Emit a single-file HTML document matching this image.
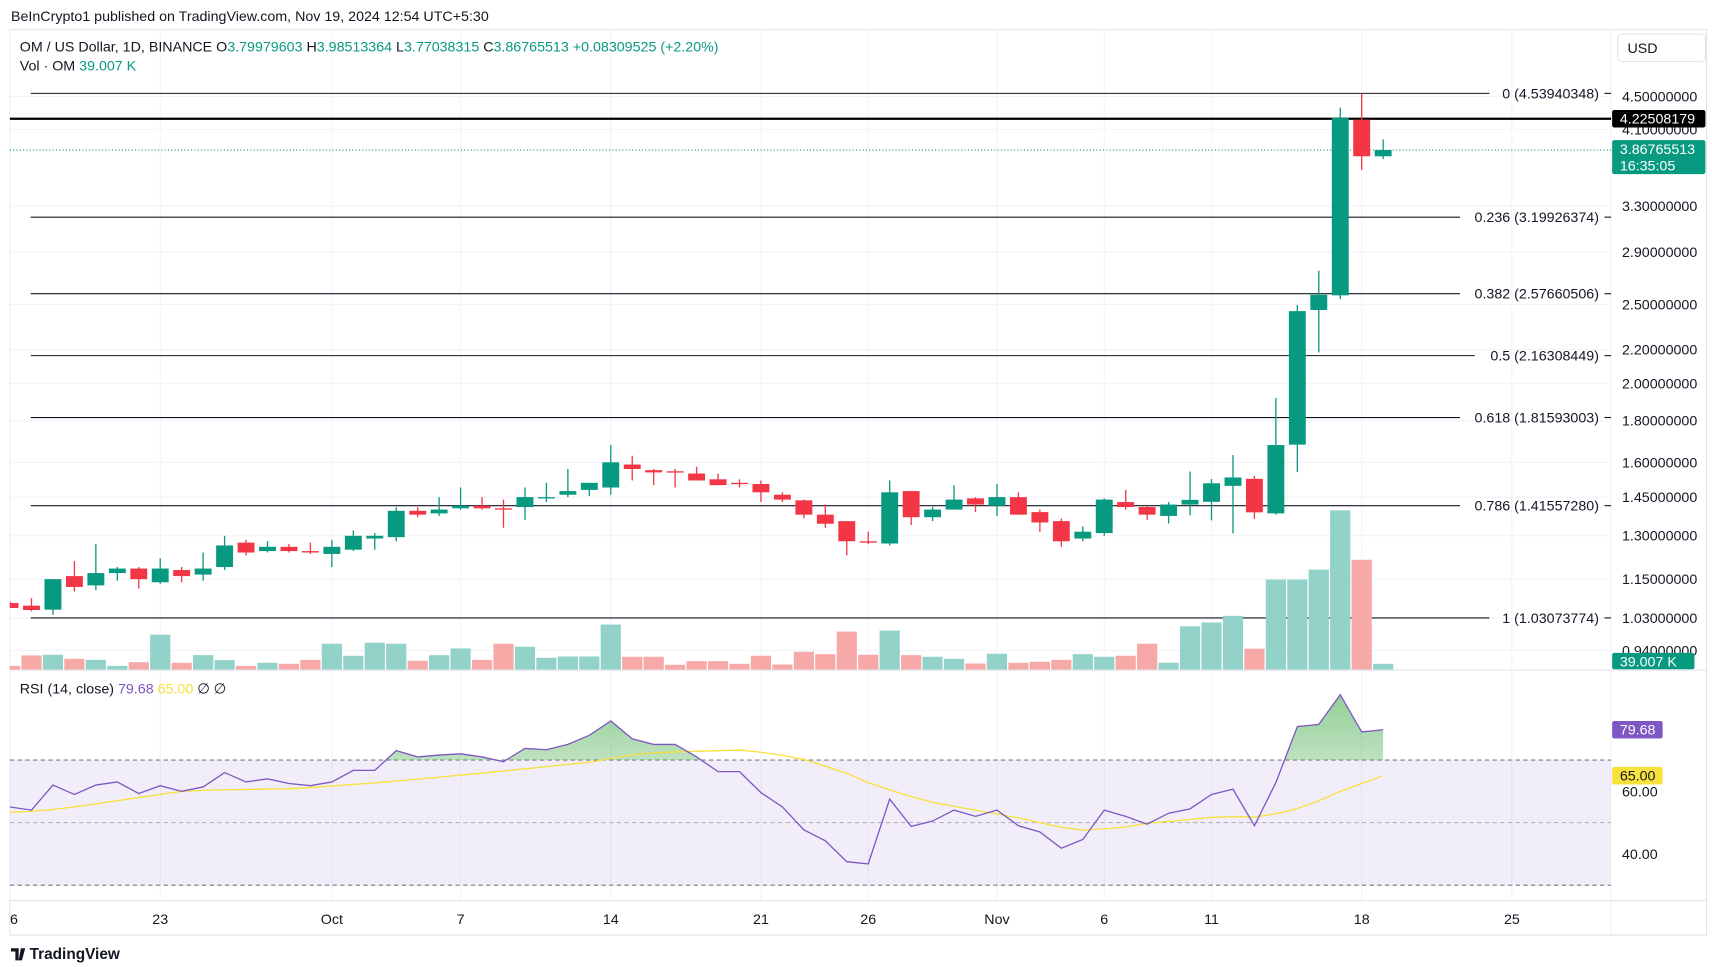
<!DOCTYPE html>
<html><head><meta charset="utf-8"><style>
html,body{margin:0;padding:0;background:#fff;}
svg{display:block;font-family:"Liberation Sans",sans-serif;}
</style></head><body>
<svg id="chart" width="1712" height="967" viewBox="0 0 1560 881" xmlns="http://www.w3.org/2000/svg">
<defs>
<clipPath id="plotclip"><rect x="9" y="27" width="1459" height="825"/></clipPath>
<clipPath id="above70"><rect x="9" y="611" width="1459" height="81.5"/></clipPath>
<linearGradient id="obg" x1="0" y1="0" x2="0" y2="1"><stop offset="0" stop-color="#4caf50" stop-opacity="0.6"/><stop offset="1" stop-color="#4caf50" stop-opacity="0"/></linearGradient>
</defs>
<text x="10" y="19" font-size="13" fill="#131722">BeInCrypto1 published on TradingView.com, Nov 19, 2024 12:54 UTC+5:30</text>
<rect x="9" y="27" width="1546" height="825" fill="none" stroke="#e0e3eb"/>
<g id="grid"></g>
<g id="fib"></g>
<g id="vol" clip-path="url(#plotclip)"></g>
<g id="candles" clip-path="url(#plotclip)"></g>
<g id="rsi"></g>
<g id="axes"></g>
<text x="18" y="47" font-size="13" fill="#131722">OM / US Dollar, 1D, BINANCE  O<tspan fill="#089981">3.79979603</tspan>  H<tspan fill="#089981">3.98513364</tspan>  L<tspan fill="#089981">3.77038315</tspan>  C<tspan fill="#089981">3.86765513</tspan>  <tspan fill="#089981">+0.08309525 (+2.20%)</tspan></text>
<text x="18" y="64" font-size="13" fill="#131722">Vol · OM  <tspan fill="#089981">39.007 K</tspan></text>
<g><rect x="1474" y="31" width="80" height="25" rx="4" fill="#fff" stroke="#e0e3eb"/><text x="1483" y="48" font-size="13" fill="#131722">USD</text></g>
<text x="18" y="632" font-size="13" fill="#131722">RSI (14, close)  <tspan fill="#7e57c2">79.68</tspan>  <tspan fill="#f7e13b">65.00</tspan>  ∅  ∅</text>
<g><path d="M10 864h7v11h-3v-8h-4z M19 864h4l-3 11h-3z" fill="#131722"/><text x="27" y="874" font-size="14" font-weight="bold" fill="#131722">TradingView</text></g>
</svg>
<script>
const days=["Sep16","Sep17","Sep18","Sep19","Sep20","Sep21","Sep22","Sep23","Sep24","Sep25","Sep26","Sep27","Sep28","Sep29","Sep30","Oct1","Oct2","Oct3","Oct4","Oct5","Oct6","Oct7","Oct8","Oct9","Oct10","Oct11","Oct12","Oct13","Oct14","Oct15","Oct16","Oct17","Oct18","Oct19","Oct20","Oct21","Oct22","Oct23","Oct24","Oct25","Oct26","Oct27","Oct28","Oct29","Oct30","Oct31","Nov1","Nov2","Nov3","Nov4","Nov5","Nov6","Nov7","Nov8","Nov9","Nov10","Nov11","Nov12","Nov13","Nov14","Nov15","Nov16","Nov17","Nov18","Nov19"];
const opens=[1.075,1.067,1.055,1.16,1.13,1.17,1.185,1.14,1.18,1.165,1.19,1.275,1.245,1.26,1.245,1.235,1.25,1.29,1.295,1.395,1.385,1.405,1.415,1.405,1.41,1.445,1.46,1.48,1.49,1.59,1.565,1.56,1.55,1.525,1.51,1.505,1.46,1.437,1.38,1.355,1.28,1.272,1.475,1.37,1.40,1.445,1.415,1.45,1.39,1.355,1.29,1.31,1.43,1.41,1.375,1.42,1.431,1.497,1.527,1.385,1.682,2.461,2.565,4.213,3.7998];
const highs=[1.08,1.09,1.15,1.21,1.27,1.19,1.19,1.22,1.19,1.24,1.30,1.285,1.28,1.27,1.275,1.285,1.32,1.31,1.41,1.41,1.45,1.49,1.45,1.44,1.49,1.51,1.57,1.51,1.68,1.63,1.57,1.57,1.58,1.55,1.525,1.52,1.47,1.44,1.42,1.355,1.315,1.52,1.475,1.41,1.50,1.45,1.505,1.47,1.40,1.365,1.335,1.445,1.48,1.415,1.43,1.559,1.526,1.633,1.54,1.919,2.497,2.75,4.358,4.539,3.985];
const lows=[1.06,1.05,1.04,1.11,1.115,1.145,1.12,1.135,1.14,1.145,1.18,1.23,1.24,1.24,1.235,1.19,1.245,1.25,1.28,1.37,1.375,1.40,1.40,1.33,1.36,1.43,1.45,1.455,1.46,1.52,1.50,1.49,1.52,1.50,1.49,1.43,1.43,1.366,1.33,1.23,1.27,1.265,1.34,1.355,1.40,1.39,1.375,1.38,1.315,1.26,1.28,1.30,1.40,1.36,1.346,1.377,1.358,1.309,1.364,1.38,1.556,2.183,2.539,3.657,3.770];
const closes=[1.06,1.054,1.15,1.125,1.17,1.185,1.15,1.185,1.16,1.185,1.265,1.24,1.26,1.245,1.24,1.26,1.30,1.30,1.395,1.38,1.40,1.415,1.405,1.40,1.45,1.45,1.475,1.51,1.60,1.57,1.555,1.555,1.52,1.50,1.505,1.47,1.44,1.38,1.345,1.28,1.275,1.47,1.37,1.40,1.44,1.42,1.45,1.38,1.35,1.28,1.315,1.44,1.41,1.38,1.42,1.439,1.508,1.533,1.389,1.68,2.453,2.569,4.236,3.80,3.8677];
const volumesK=[25,96,101,73,66,25,50,238,46,98,64,25,46,39,66,176,94,183,176,60,98,144,66,176,156,80,89,89,307,87,87,32,57,57,39,94,34,121,105,259,101,266,98,87,73,41,108,46,53,66,105,87,94,176,46,295,321,366,142,614,614,682,1086,749,39];
const rsiValues=[55,54,62,59,62,63,59.3,61.8,60,61.4,66,63,64,62.5,61.8,63,66.7,66.7,73,71,71.6,72,71,69.5,73.7,73.3,75,77.9,82.5,76.8,75,75,71,66.3,66.3,59.6,55,47.7,44.2,37.5,36.8,57.5,48.8,50.5,54,52,54,49,47,41.8,44.6,54,52,49.5,53,54.4,59,60.7,49,62.8,80.7,81.4,90.9,79,79.68];
const rsiMA=[53.3,53.6,54.2,55,56,57,58,59,60,60.3,60.5,60.6,60.7,60.8,61.2,61.7,62.2,62.7,63.3,63.9,64.5,65.2,65.8,66.5,67.2,67.9,68.6,69.3,70.5,71.7,72.3,72.6,72.8,73,73.2,72.5,71.5,70.2,68,65.8,62.8,60.5,58.3,56.5,55.2,54,52.8,51.5,50,48.5,47.6,48,48.6,49.8,50.4,51,51.7,51.9,51.8,52.8,54.5,57,60,62.5,65];
const priceTicks=[4.5,4.1,3.3,2.9,2.5,2.2,2.0,1.8,1.6,1.45,1.3,1.15,1.03,0.94];
const fibLevels=[0,0.236,0.382,0.5,0.618,0.786,1];
const fibPrices=[4.53940348,3.19926374,2.57660506,2.16308449,1.81593003,1.41557280,1.03073774];
const timeLabels=["16","23","Oct","7","14","21","26","Nov","6","11","18","25"];
const timeIdx=[0,7,15,21,28,35,40,46,51,56,63,70];
const rsiTicks=[60,40];
const hLinePrice=4.22508179, lastPrice=3.86765513, lastVolLabel="39.007 K";

const NS="http://www.w3.org/2000/svg";
function mk(tag,attrs,parent){const e=document.createElementNS(NS,tag);for(const k in attrs)e.setAttribute(k,attrs[k]);parent.appendChild(e);return e;}
const X0=9.15,DX=19.55;
const xOf=i=>X0+i*DX;
const PY0=85,PSC=322.4,PREF=4.53940348;
const yP=p=>PY0+(Math.log(PREF)-Math.log(p))*PSC;
const VOLB=610,VPX=7.49;
const yV=v=>VOLB-v/VPX;
const yR=v=>721-(v-60)*2.85;
const PL=9,PR=1468;
const G=id=>document.getElementById(id);

const grid=G('grid');
priceTicks.forEach(p=>{const l=mk('line',{x1:PL,x2:PR,y1:yP(p),y2:yP(p),stroke:'#f0f3fa'},grid);

});
timeIdx.forEach(i=>{const l=mk('line',{x1:xOf(i),x2:xOf(i),y1:27,y2:820,stroke:'#f0f3fa'},grid);

});
mk('line',{x1:PL,x2:1555,y1:610.5,y2:610.5,stroke:'#e0e3eb'},grid);
mk('line',{x1:PR,x2:PR,y1:27,y2:852,stroke:'#f0f3fa'},grid);
mk('line',{x1:PL,x2:1555,y1:820.5,y2:820.5,stroke:'#e0e3eb'},grid);

const vg=G('vol');
volumesK.forEach((v,i)=>{const up=closes[i]>=opens[i];const r=mk('rect',{x:xOf(i)-9.2,y:yV(v),width:18.4,height:VOLB-yV(v),fill:up?'#92d2c9':'#f7a9a7'},vg);

});

const fg=G('fib');
fibLevels.forEach((lv,k)=>{const y=yP(fibPrices[k]);const label=lv+' ('+fibPrices[k].toFixed(8)+')';
const t=mk('text',{x:1457,y:y+4.5,'font-size':13,fill:'#131722','text-anchor':'end'},fg);t.textContent=label;


const w=label.length*6.7;
const l=mk('line',{x1:28,x2:1457-w-6,y1:y,y2:y,stroke:'#131722','stroke-width':1},fg);


mk('line',{x1:1462,x2:1468,y1:y,y2:y,stroke:'#131722'},fg);});
const hl=mk('line',{x1:PL,x2:PR,y1:yP(hLinePrice),y2:yP(hLinePrice),stroke:'#000','stroke-width':2},fg);


const cl=mk('line',{x1:PL,x2:PR,y1:yP(lastPrice),y2:yP(lastPrice),stroke:'#089981','stroke-dasharray':'1,2'},fg);



const cg=G('candles');
opens.forEach((o,i)=>{const c=closes[i],up=c>=o,col=up?'#089981':'#f23645',x=xOf(i);
const g=mk('g',{},cg);


mk('line',{x1:x,x2:x,y1:yP(highs[i]),y2:yP(lows[i]),stroke:col,'stroke-width':1.2},g);
const yt=yP(Math.max(o,c)),yb=yP(Math.min(o,c));
mk('rect',{x:x-7.7,y:yt,width:15.4,height:Math.max(1.2,yb-yt),fill:col},g);});

const rg=G('rsi');
const band=mk('rect',{x:PL,y:yR(70),width:PR-PL,height:yR(30)-yR(70),fill:'rgba(126,87,194,0.1)'},rg);


[[70,'#787b86'],[50,'#b2b5be'],[30,'#787b86']].forEach(([v,c])=>mk('line',{x1:PL,x2:PR,y1:yR(v),y2:yR(v),stroke:c,'stroke-dasharray':'4,3'},rg));
let pts=rsiValues.map((v,i)=>xOf(i)+','+yR(v));
const fill=mk('polygon',{points:xOf(0)+','+yR(70)+' '+pts.join(' ')+' '+xOf(rsiValues.length-1)+','+yR(70),fill:'url(#obg)','clip-path':'url(#above70)'},rg);


const ma=mk('polyline',{points:rsiMA.map((v,i)=>xOf(i)+','+yR(v)).join(' '),fill:'none',stroke:'#f7e13b','stroke-width':1.2},rg);


const rl=mk('polyline',{points:pts.join(' '),fill:'none',stroke:'#7e57c2','stroke-width':1.2},rg);



const ag=G('axes');
priceTicks.forEach(p=>{const t=mk('text',{x:1478,y:yP(p)+4.5,'font-size':13,fill:'#131722'},ag);t.textContent=p.toFixed(8);

});
rsiTicks.forEach(v=>{const t=mk('text',{x:1478,y:yR(v)+4.5,'font-size':13,fill:'#131722'},ag);t.textContent=v.toFixed(2);

});
function badge(name,y,h,bg,fg2,lines,w){const g=mk('g',{},ag);


mk('rect',{x:1469,y:y,width:w||85,height:h,fill:bg,rx:2},g);
lines.forEach((s,k)=>{const t=mk('text',{x:1476,y:y+12.5+k*15,'font-size':13,fill:fg2},g);t.textContent=s;});}
badge('horizontal-line-price-label',yP(hLinePrice)-8,16,'#000','#fff',[hLinePrice.toFixed(8)]);
badge('last-price-label',yP(lastPrice)-9,31,'#089981','#fff',[lastPrice.toFixed(8),'16:35:05']);
badge('volume-label',yV(volumesK[volumesK.length-1])-10,15,'#089981','#fff',[lastVolLabel],75);
badge('rsi-value-label',yR(rsiValues[rsiValues.length-1])-8,16,'#7e57c2','#fff',[rsiValues[rsiValues.length-1].toFixed(2)],46);
badge('rsi-ma-label',yR(rsiMA[rsiMA.length-1])-8,16,'#f7e13b','#131722',[rsiMA[rsiMA.length-1].toFixed(2)],46);
const tg=mk('g',{'clip-path':'url(#plotclip)'},ag);
timeLabels.forEach((s,k)=>{const t=mk('text',{x:xOf(timeIdx[k]),y:842,'font-size':13,fill:'#131722','text-anchor':'middle'},tg);t.textContent=s;

});
</script>
</body></html>
